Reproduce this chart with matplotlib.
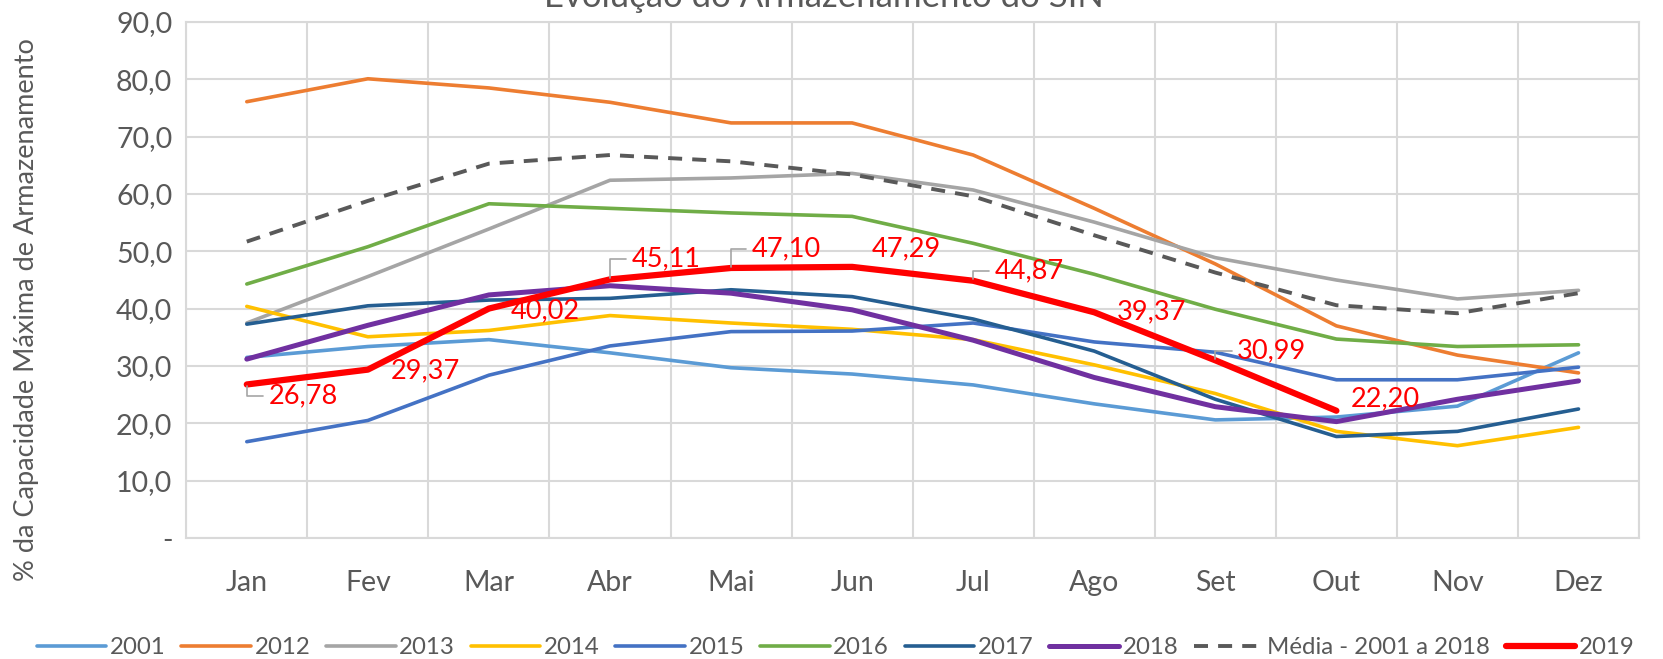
import matplotlib

matplotlib.use("Agg")
import matplotlib.pyplot as plt

MONTHS = ["Jan", "Fev", "Mar", "Abr", "Mai", "Jun", "Jul", "Ago", "Set", "Out", "Nov", "Dez"]

y2001 = [31.5, 33.4, 34.6, 32.3, 29.7, 28.6, 26.7, 23.4, 20.6, 21.1, 23.0, 32.3]
y2012 = [76.1, 80.1, 78.5, 76.0, 72.4, 72.4, 66.8, 57.5, 47.8, 37.0, 31.9, 28.8]
y2013 = [37.5, 45.6, 53.9, 62.4, 62.8, 63.6, 60.7, 55.1, 48.9, 45.0, 41.7, 43.2]
y2014 = [40.4, 35.1, 36.2, 38.8, 37.5, 36.4, 34.6, 30.2, 25.2, 18.6, 16.1, 19.3]
y2015 = [16.8, 20.5, 28.4, 33.5, 36.0, 36.1, 37.5, 34.2, 32.4, 27.6, 27.6, 29.8]
y2016 = [44.3, 50.8, 58.3, 57.5, 56.7, 56.1, 51.4, 46.0, 39.9, 34.7, 33.4, 33.7]
y2017 = [37.3, 40.5, 41.5, 41.8, 43.3, 42.1, 38.2, 32.6, 24.2, 17.7, 18.6, 22.5]
y2018 = [31.2, 37.1, 42.4, 44.0, 42.7, 39.8, 34.5, 28.0, 22.9, 20.3, 24.2, 27.4]
media = [51.7, 58.8, 65.3, 66.8, 65.7, 63.4, 59.6, 52.8, 46.3, 40.6, 39.2, 42.7]
y2019 = [26.78, 29.37, 40.02, 45.11, 47.10, 47.29, 44.87, 39.37, 30.99, 22.20]

# (label, values, color, linewidth, linestyle)
SERIES = [
    ("2001", y2001, "#5B9BD5", 2.6, "-"),
    ("2012", y2012, "#ED7D31", 2.6, "-"),
    ("2013", y2013, "#A5A5A5", 2.6, "-"),
    ("2014", y2014, "#FFC000", 2.6, "-"),
    ("2015", y2015, "#4472C4", 2.6, "-"),
    ("2016", y2016, "#70AD47", 2.6, "-"),
    ("2017", y2017, "#255E91", 2.6, "-"),
    ("2018", y2018, "#7030A0", 3.6, "-"),
    ("Média - 2001 a 2018", media, "#595959", 2.8, (0, (3.6, 2.6))),
    ("2019", y2019, "#FF0000", 4.5, "-"),
]

# label placement for 2019 values: (x offset, y centre, leader line?)
LABEL_POS = [
    (0.18, 24.8, True),
    (0.19, 29.1, False),
    (0.18, 39.6, False),
    (0.18, 48.7, True),
    (0.17, 50.4, True),
    (0.16, 50.4, False),
    (0.18, 46.6, True),
    (0.19, 39.4, False),
    (0.18, 32.6, True),
    (0.12, 24.3, False),
]

TEXT = "#595959"
GRID = "#D9D9D9"
plt.rcParams["font.family"] = ["Lato", "DejaVu Sans"]

fig = plt.figure(figsize=(16.63, 6.59), dpi=100)
ax = fig.add_axes([0.112, 0.1836, 0.8736, 0.783])

x = list(range(len(MONTHS)))
for label, vals, color, lw, ls in SERIES:
    ax.plot(x[:len(vals)], vals, color=color, lw=lw, linestyle=ls, label=label,
            solid_capstyle="round", dash_capstyle="butt", zorder=3)

for i, v in enumerate(y2019):
    dx, ty, leader = LABEL_POS[i]
    txt = f"{v:.2f}".replace(".", ",")
    if leader:
        ax.annotate(txt, xy=(i, v), xytext=(i + dx, ty), ha="left", va="center",
                    color="#FF0000", fontsize=19.5, zorder=5,
                    arrowprops=dict(arrowstyle="-", color="#A5A5A5", lw=1.2,
                                    shrinkA=2, shrinkB=1,
                                    connectionstyle="angle,angleA=0,angleB=90,rad=0"))
    else:
        ax.text(i + dx, ty, txt, ha="left", va="center", color="#FF0000",
                fontsize=19.5, zorder=5)

ax.set_xlim(-0.5, 11.5)
ax.set_ylim(0, 90)
ax.set_xticks(x)
ax.set_xticklabels(MONTHS)
ax.set_xticks([i - 0.5 for i in range(13)], minor=True)
ax.set_yticks(range(0, 91, 10))
ax.set_yticklabels(["-"] + [f"{t},0" for t in range(10, 91, 10)])
ax.tick_params(axis="both", which="both", length=0, colors=TEXT, labelsize=20.5)
ax.tick_params(axis="x", pad=23)
ax.tick_params(axis="y", pad=10)
ax.grid(axis="y", color=GRID, lw=1.5)
ax.grid(axis="x", which="minor", color=GRID, lw=1.5)
for s in ax.spines.values():
    s.set_color(GRID)
    s.set_linewidth(1.5)

fig.text(27 / 1663, 1 - 310 / 659, "% da Capacidade Máxima de Armazenamento",
         rotation=90, ha="center", va="center", color=TEXT, fontsize=19.5)
fig.text(824 / 1663, 1 - 7 / 659, "Evolução do Armazenamento do SIN",
         ha="center", va="baseline", color=TEXT, fontsize=25)

fig.legend(loc="center", bbox_to_anchor=(0.5025, 1 - 648 / 659), ncol=10,
           frameon=False, fontsize=17.3, labelcolor=TEXT, handlelength=2.9,
           handletextpad=0.15, columnspacing=0.65, borderaxespad=0)

fig.savefig("out.png", dpi=100)
